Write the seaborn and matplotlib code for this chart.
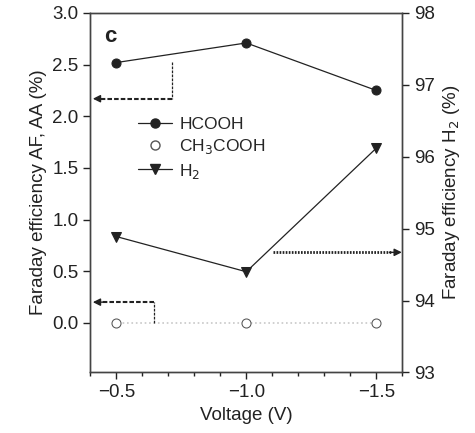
import numpy as np
import pandas as pd
import seaborn as sns
import matplotlib.pyplot as plt
from matplotlib.ticker import MultipleLocator
from matplotlib.lines import Line2D

# data
voltage = [-0.5, -1.0, -1.5]
hcooh = [2.52, 2.71, 2.25]
ch3cooh = [0.0, 0.0, 0.0]
h2 = [94.89, 94.40, 96.12]

df = pd.DataFrame({"Voltage": voltage, "HCOOH": hcooh, "CH3COOH": ch3cooh, "H2": h2})

sns.set_theme(style="ticks")
plt.rcParams['font.family'] = ['Liberation Sans', 'DejaVu Sans']
plt.rcParams['font.size'] = 13

fig, ax = plt.subplots(figsize=(4.75, 4.33), dpi=100)
fig.subplots_adjust(left=0.19, right=0.847, top=0.97, bottom=0.14)
ax2 = ax.twinx()

ink = "#222222"
ms = 6.5
fs = 13.5

sns.lineplot(data=df, x="Voltage", y="HCOOH", ax=ax, color=ink, lw=0.9,
             marker="o", markersize=ms, markeredgecolor=ink, legend=False)
sns.lineplot(data=df, x="Voltage", y="CH3COOH", ax=ax, color="#c8c8c8", lw=1.2,
             linestyle=":", marker="o", markersize=ms, markerfacecolor="white",
             markeredgecolor="#555555", legend=False)
sns.lineplot(data=df, x="Voltage", y="H2", ax=ax2, color=ink, lw=0.9,
             marker="v", markersize=ms, markeredgecolor=ink, legend=False)

ax.set_xlim(-0.4, -1.6)
ax.set_ylim(-0.48, 3.0)
ax2.set_ylim(93.0, 98.0)

ax.set_xticks([-0.5, -1.0, -1.5])
ax.set_xticklabels(["\u22120.5", "\u22121.0", "\u22121.5"])
ax.xaxis.set_minor_locator(MultipleLocator(0.1))
ax.set_yticks(np.arange(0, 3.01, 0.5))
ax2.set_yticks([93, 94, 95, 96, 97, 98])

for a in (ax, ax2):
    a.tick_params(direction="out", length=5, width=1, colors=ink, labelsize=fs)
    for s in a.spines.values():
        s.set_color("#444444")
        s.set_linewidth(1.0)
ax.tick_params(which="minor", direction="out", length=3, width=1, colors=ink)

ax.set_xlabel("Voltage (V)", fontsize=fs, color=ink)
ax.set_ylabel("Faraday efficiency AF, AA (%)", fontsize=fs, color=ink)
ax2.set_ylabel("Faraday efficiency H$_2$ (%)", fontsize=fs, color=ink)

# arrows pointing to the relevant axis
dash = (0, (2.2, 1.0))
head = dict(arrowstyle="-|>", color=ink, lw=1.0, shrinkA=0, shrinkB=0, mutation_scale=11)
ax.plot([-0.715, -0.715], [2.53, 2.17], color=ink, lw=0.9, ls=dash)
ax.plot([-0.715, -0.44], [2.17, 2.17], color=ink, lw=1.5, ls=dash)
ax.annotate("", xy=(-0.41, 2.17), xytext=(-0.45, 2.17), arrowprops=head)
ax.plot([-0.646, -0.646], [0.0, 0.2], color=ink, lw=0.9, ls=dash)
ax.plot([-0.646, -0.44], [0.2, 0.2], color=ink, lw=1.5, ls=dash)
ax.annotate("", xy=(-0.41, 0.2), xytext=(-0.45, 0.2), arrowprops=head)
ax2.plot([-1.104, -1.56], [94.67, 94.67], color=ink, lw=2.0, ls=(0, (0.6, 0.5)))
ax2.annotate("", xy=(-1.598, 94.67), xytext=(-1.55, 94.67), arrowprops=head)

# legend
handles = [
    Line2D([], [], color=ink, lw=0.9, marker="o", markersize=ms),
    Line2D([], [], color="none", marker="o", markersize=ms,
           markerfacecolor="white", markeredgecolor="#555555"),
    Line2D([], [], color=ink, lw=0.9, marker="v", markersize=ms),
]
labels = ["HCOOH", "CH$_3$COOH", "H$_2$"]
ax.legend(handles, labels, loc="upper left", bbox_to_anchor=(0.13, 0.73),
          frameon=False, fontsize=12.5, handlelength=2.0, labelspacing=0.3,
          handletextpad=0.4, borderaxespad=0)

ax.text(0.045, 0.965, "c", transform=ax.transAxes, fontsize=16, fontweight="bold",
        va="top", color=ink)

plt.savefig("out.png", dpi=100)
